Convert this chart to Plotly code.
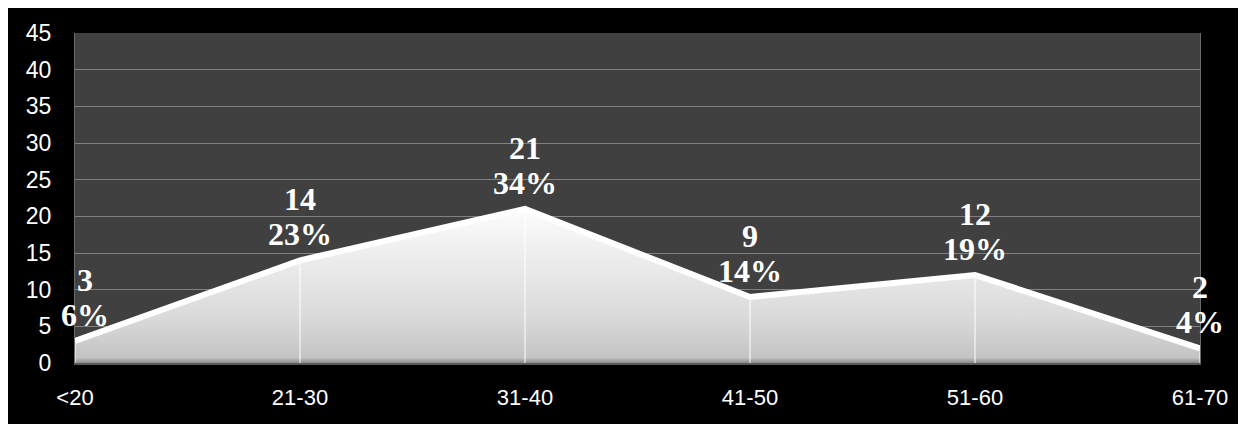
import plotly.graph_objects as go

categories = ["<20", "21-30", "31-40", "41-50", "51-60", "61-70"]
counts = [3, 14, 21, 9, 12, 2]
percent_labels = ["6%", "23%", "34%", "14%", "19%", "4%"]
y_ticks = [0, 5, 10, 15, 20, 25, 30, 35, 40, 45]

fig = go.Figure()

# area with gradient fill
fig.add_trace(go.Scatter(
    x=categories, y=counts, mode="lines",
    line=dict(color="#ffffff", width=6),
    fill="tozeroy",
    fillgradient=dict(type="vertical", start=0, stop=max(counts),
                      colorscale=[[0, "#8c8c8c"], [0.035, "#c4c4c4"], [0.3, "#dadada"], [1, "#fcfcfc"]]),
    hoverinfo="skip", showlegend=False,
))

# drop lines
dx, dy = [], []
for c, v in zip(categories, counts):
    dx += [c, c, None]
    dy += [0, v, None]
fig.add_trace(go.Scatter(x=dx, y=dy, mode="lines", line=dict(color="#ffffff", width=1),
                         hoverinfo="skip", showlegend=False))

label_font = dict(family="Liberation Serif", size=32, color="#ffffff")
for i, (c, v, p) in enumerate(zip(categories, counts, percent_labels)):
    xs = 10 if i == 0 else 0
    fig.add_annotation(x=c, y=v, text="<b>%d</b>" % v, showarrow=False, font=label_font,
                       xanchor="center", yanchor="middle", yshift=61, xshift=xs)
    fig.add_annotation(x=c, y=v, text="<b>%s</b>" % p, showarrow=False, font=label_font,
                       xanchor="center", yanchor="middle", yshift=26, xshift=xs)

fig.update_layout(
    width=1238, height=416,
    margin=dict(l=67, r=46, t=25, b=61),
    paper_bgcolor="#000000",
    plot_bgcolor="#404040",
    font=dict(family="Liberation Sans", size=22, color="#ffffff"),
)
fig.update_xaxes(type="category", range=[0, len(categories) - 1], showgrid=False,
                 showline=True, linecolor="#5a5a5a", linewidth=2, mirror=False,
                 ticks="outside", ticklen=14, tickcolor="#000000",
                 tickfont=dict(family="Liberation Sans", size=22, color="#ffffff"))
fig.update_yaxes(range=[0, 45], tickvals=y_ticks, showgrid=True, gridcolor="#808080", gridwidth=1,
                 zeroline=False, showline=True, linecolor="#6a6a6a", linewidth=1, mirror=True,
                 ticks="outside", ticklen=18, tickcolor="#000000",
                 tickfont=dict(family="Liberation Sans", size=23, color="#ffffff"))

fig.write_html("out.html")
